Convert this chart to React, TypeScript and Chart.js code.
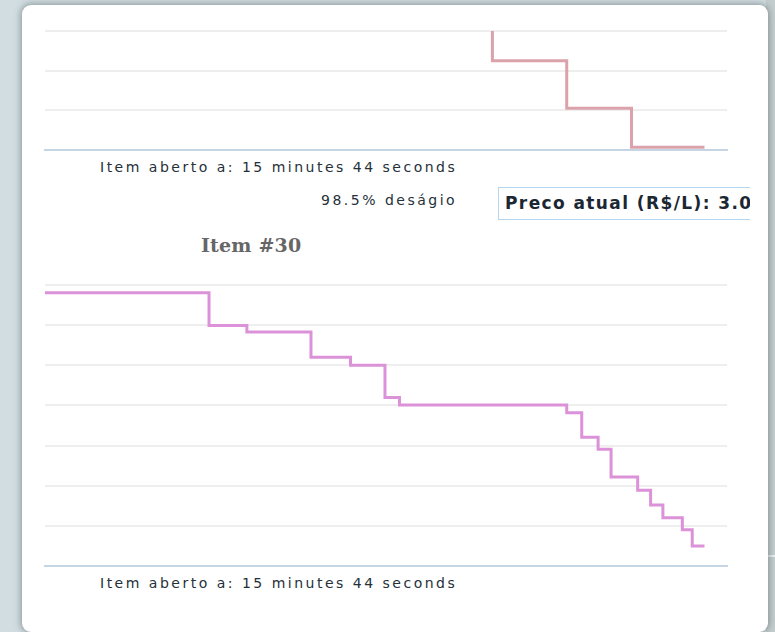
import React, { useEffect, useRef } from "react";
import { Chart, registerables } from "chart.js";

Chart.register(...registerables);

// Item #29 (upper chart, partly scrolled out of view)
const timeTop = [0, 65.6, 76.5, 86.0, 96.7];
const priceTop = [3.6, 2.25, 1.05, 0.07, 0.07];
const yMaxTop = 3;

// Item #30
const time30 = [0, 24.05, 29.6, 39.0, 44.8, 49.85, 51.98, 76.5, 78.7, 81.1, 83.0, 86.9, 88.8, 90.6, 93.45, 94.9, 96.7];
const price30 = [6.81, 5.99, 5.83, 5.2, 5.0, 4.2, 4.01, 3.82, 3.21, 2.91, 2.22, 1.89, 1.52, 1.2, 0.9, 0.5, 0.5];
const yMax30 = 7;

const xMin = 0;
const xMax = 100;

const openText = "Item aberto a: 15 minutes 44 seconds";
const discountText = "98.5% deságio";
const priceText = "Preco atual (R$/L): 3.00";
const title30 = "Item #30";

type StepProps = {
  xs: number[];
  ys: number[];
  yMax: number;
  color: string;
  clip?: number;
  left: number;
  top: number;
  width: number;
  height: number;
};

function StepChart({ xs, ys, yMax, color, clip, left, top, width, height }: StepProps) {
  const ref = useRef<HTMLCanvasElement | null>(null);
  useEffect(() => {
    if (!ref.current) return;
    const ds: any = {
      data: xs.map((x, i) => ({ x, y: ys[i] })),
      stepped: true,
      borderColor: color,
      borderWidth: 3,
      pointRadius: 0,
      fill: false,
    };
    if (clip !== undefined) ds.clip = clip;
    const chart = new Chart(ref.current, {
      type: "line",
      data: { datasets: [ds] },
      options: {
        animation: false,
        responsive: false,
        maintainAspectRatio: false,
        events: [],
        layout: { padding: 5 },
        plugins: {
          legend: { display: false },
          tooltip: { enabled: false },
          title: { display: false },
        },
        scales: {
          x: {
            type: "linear",
            min: xMin,
            max: xMax,
            grid: { display: false, drawTicks: false },
            ticks: { display: false },
            border: { display: true, color: "#c6d5e4", width: 2 },
            afterFit: (s: any) => {
              s.height = 0;
            },
          },
          y: {
            min: 0,
            max: yMax,
            ticks: { display: false, stepSize: 1 },
            grid: { color: "#eeeeee", lineWidth: 2, drawTicks: false },
            border: { display: false },
            afterFit: (s: any) => {
              s.width = 0;
            },
          },
        },
      } as any,
    });
    return () => chart.destroy();
  }, []);
  return (
    <canvas
      ref={ref}
      width={width}
      height={height}
      style={{ position: "absolute", left, top, width, height }}
    />
  );
}

const textFont = 'Verdana, "DejaVu Sans", sans-serif';

export default function App() {
  const abs = (s: React.CSSProperties): React.CSSProperties => ({ position: "absolute", ...s });
  const small: React.CSSProperties = {
    font: `14px ${textFont}`,
    lineHeight: "14px",
    letterSpacing: "2.5px",
    color: "#253039",
    whiteSpace: "nowrap",
  };
  return (
    <div
      style={{
        position: "fixed",
        left: 0,
        top: 0,
        width: 775,
        height: 632,
        overflow: "hidden",
        background: "#d2dde2",
      }}
    >
      {/* right scrollbar strip */}
      <div style={abs({ left: 766, top: 0, width: 9, height: 632, background: "#c5cece" })} />
      <div style={abs({ left: 766, top: 555, width: 9, height: 2, background: "#eef2f2" })} />
      {/* card */}
      <div
        style={abs({
          left: 22,
          top: 5,
          width: 746,
          height: 627,
          background: "#ffffff",
          borderRadius: 9,
          boxShadow: "0 0 7px 1px rgba(70,90,90,0.55)",
        })}
      />
      <StepChart xs={timeTop} ys={priceTop} yMax={yMaxTop} color="#dba2ac" clip={0} left={40} top={26} width={692} height={129} />
      <div style={abs({ left: 100, top: 159.5, ...small })}>{openText}</div>
      <div style={abs({ left: 321, top: 193, ...small })}>{discountText}</div>
      <div style={abs({ left: 498, top: 187, width: 252, height: 33, overflow: "hidden" })}>
        <div
          style={{
            boxSizing: "border-box",
            width: 300,
            height: 33,
            border: "1px solid #b6d6ef",
            background: "#fff",
            paddingLeft: 6,
            font: `bold 17px ${textFont}`,
            lineHeight: "31px",
            letterSpacing: "1.4px",
            color: "#1b2733",
            whiteSpace: "nowrap",
          }}
        >
          {priceText}
        </div>
      </div>
      <div
        style={abs({
          left: 201,
          top: 236,
          font: 'bold 19px "DejaVu Serif", serif',
          lineHeight: "19px",
          letterSpacing: "0.2px",
          color: "#666666",
          whiteSpace: "nowrap",
        })}
      >
        {title30}
      </div>
      <StepChart xs={time30} ys={price30} yMax={yMax30} color="#dc92d8" left={40} top={280} width={692} height={291} />
      <div style={abs({ left: 100, top: 575.5, ...small })}>{openText}</div>
    </div>
  );
}
